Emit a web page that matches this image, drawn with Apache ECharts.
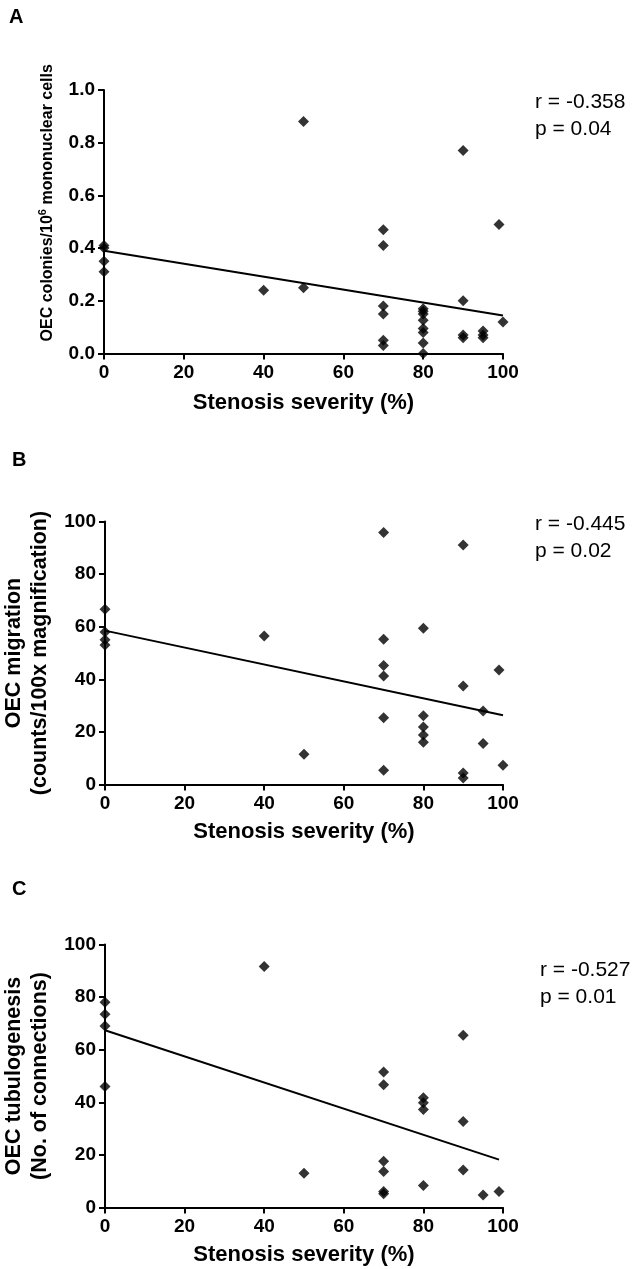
<!DOCTYPE html>
<html>
<head>
<meta charset="utf-8">
<script src="https://cdn.jsdelivr.net/npm/echarts@6/dist/echarts.min.js"></script>
<style>
html,body{margin:0;padding:0;background:#fff;}
#c{width:633px;height:1269px;}
</style>
</head>
<body>
<div id="c"></div>
<script>
// ---------- data ----------
const panelLetters = ['A', 'B', 'C'];
const xTitle = 'Stenosis severity (%)';
const yTitles = [
  'OEC colonies/10{sup|6} mononuclear cells',
  'OEC migration\n(counts/100x magnification)',
  'OEC tubulogenesis\n(No. of connections)'
];
const statR = ['r = -0.358', 'r = -0.445', 'r = -0.527'];
const statP = ['p = 0.04', 'p = 0.02', 'p = 0.01'];
const xTicks = [0, 20, 40, 60, 80, 100];

// Panel A
const aX = [0,0,0,0, 40,50,50, 70,70,70,70,70,70, 80,80,80,80,80,80,80,80, 90,90,90,90, 95,95,95, 99,100];
const aY = [0.41,0.40,0.35,0.31, 0.24,0.88,0.25, 0.47,0.41,0.18,0.15,0.05,0.03, 0.17,0.16,0.15,0.126,0.095,0.08,0.04,0.0, 0.77,0.20,0.07,0.06, 0.085,0.07,0.06, 0.49,0.12];
const aFitX = [0, 100];
const aFitY = [0.39, 0.144];

// Panel B
const bX = [0,0,0,0, 40,50, 70,70,70,70,70,70, 80,80,80,80,80, 90,90,90,90, 95,95, 99,100];
const bY = [66.6,58,55,53, 56.5,11.5, 95.8,55.2,45.2,41.3,25.4,5.4, 59.4,26.1,21.9,18.8,16.1, 91.1,37.5,4.4,2.5, 27.9,15.6, 43.5,7.3];
const bFitX = [0, 100];
const bFitY = [58.5, 26.3];

// Panel C
const cX = [0,0,0,0, 40,50, 70,70,70,70,70,70, 80,80,80,80, 90,90,90, 95,99];
const cY = [78,73.5,69,46, 91.6,13, 51.5,46.7,17.6,13.7,6.1,5.2, 41.7,39.8,37.3,8.4, 65.5,32.7,14.3, 4.8,6.1];
const cFitX = [0, 99];
const cFitY = [67.4, 18.2];

// ---------- layout ----------
const FONT = '"Liberation Sans", Arial, sans-serif';
const zip = (xs, ys) => xs.map((x, i) => [x, ys[i]]);
const panels = [
  {x: aX, y: aY, fx: aFitX, fy: aFitY, ymax: 1, yint: 0.2, fmt: v => v.toFixed(1),
   grid: {left: 104, top: 90, width: 399, height: 263.5}, nameGap: 46, nameSize: 16, nameLH: 20,
   namePad: [0, 0, 0, 38],
   letterY: 17, statX: 535, statY: 102},
  {x: bX, y: bY, fx: bFitX, fy: bFitY, ymax: 100, yint: 20, fmt: v => String(v),
   grid: {left: 105, top: 521.5, width: 398, height: 263}, nameGap: 47, nameSize: 21.5, nameLH: 26,
   namePad: 0,
   letterY: 460, statX: 535, statY: 524.5},
  {x: cX, y: cY, fx: cFitX, fy: cFitY, ymax: 100, yint: 20, fmt: v => String(v),
   grid: {left: 105, top: 944.5, width: 398, height: 263}, nameGap: 47, nameSize: 21.5, nameLH: 26,
   namePad: 0,
   letterY: 889, statX: 540, statY: 970.5}
];

const axisLine = {lineStyle: {color: '#000', width: 2}};
const axisTick = {inside: false, length: 6, lineStyle: {color: '#000', width: 2}};
const tickLabel = {color: '#000', fontSize: 19, fontWeight: 'bold', fontFamily: FONT};

const option = {
  animation: false,
  backgroundColor: '#fff',
  grid: panels.map(p => Object.assign({containLabel: false, outerBoundsMode: 'none'}, p.grid)),
  xAxis: panels.map((p, i) => ({
    type: 'value', gridIndex: i, min: 0, max: 100, interval: 20,
    axisLine, axisTick, splitLine: {show: false},
    axisLabel: Object.assign({margin: 10}, tickLabel),
    name: xTitle, nameLocation: 'middle', nameGap: i === 0 ? 38 : 36,
    nameTextStyle: {color: '#000', fontSize: 22, fontWeight: 'bold', fontFamily: FONT}
  })),
  yAxis: panels.map((p, i) => ({
    type: 'value', gridIndex: i, min: 0, max: p.ymax, interval: p.yint,
    axisLine, axisTick, splitLine: {show: false},
    axisLabel: Object.assign({margin: 9, formatter: p.fmt}, tickLabel),
    name: yTitles[i], nameLocation: 'middle', nameRotate: 90, nameGap: p.nameGap,
    nameTextStyle: {
      color: '#000', fontSize: p.nameSize, fontWeight: 'bold', fontFamily: FONT,
      lineHeight: p.nameLH, align: 'center', padding: p.namePad,
      rich: {sup: {color: '#000', fontSize: 11, fontWeight: 'bold', fontFamily: FONT, verticalAlign: 'top', lineHeight: p.nameLH}}
    }
  })),
  series: panels.flatMap((p, i) => [
    {type: 'line', xAxisIndex: i, yAxisIndex: i, data: zip(p.fx, p.fy),
     symbol: 'none', lineStyle: {color: '#000', width: 2}, silent: true, z: 2},
    {type: 'scatter', xAxisIndex: i, yAxisIndex: i, data: zip(p.x, p.y),
     symbol: 'diamond', symbolSize: 11, itemStyle: {color: '#000'}, z: 3}
  ]),
  graphic: panels.flatMap((p, i) => [
    {type: 'text', x: i === 0 ? 9 : 12, y: p.letterY,
     style: {text: panelLetters[i], fill: '#000', font: 'bold 20px ' + FONT, textVerticalAlign: 'middle'}},
    {type: 'text', x: p.statX, y: p.statY,
     style: {text: statR[i], fill: '#000', font: '21px ' + FONT, textVerticalAlign: 'middle'}},
    {type: 'text', x: p.statX, y: p.statY + 27,
     style: {text: statP[i], fill: '#000', font: '21px ' + FONT, textVerticalAlign: 'middle'}}
  ])
};

const chart = echarts.init(document.getElementById('c'), null, {renderer: 'canvas'});
chart.setOption(option);
</script>
</body>
</html>
